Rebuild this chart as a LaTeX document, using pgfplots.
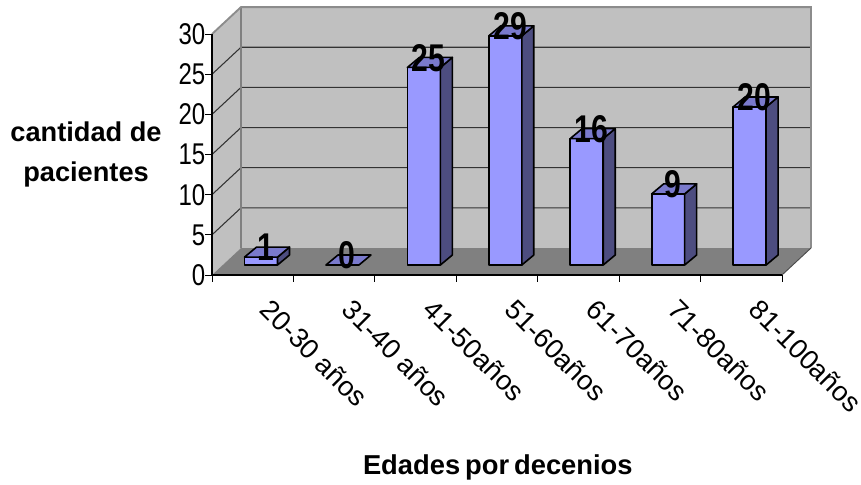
\documentclass[border=0pt]{standalone}
\usepackage{fontspec}
\usepackage{graphicx}
\setmainfont{Liberation Sans}
\usepackage{pgfplots}
\pgfplotsset{compat=1.18}

\definecolor{pared}{HTML}{C0C0C0}
\definecolor{suelo}{HTML}{808080}
\definecolor{frente}{HTML}{9999FF}
\definecolor{techo}{HTML}{7A7ACC}
\definecolor{lateral}{HTML}{4D4D80}

\pgfplotsset{
  cara frente/.style={fill=frente,draw=black,line width=1.2pt,line join=round,forget plot},
  cara techo/.style={fill=techo,draw=black,line width=1.2pt,line join=round,forget plot},
  cara lado/.style={fill=lateral,draw=black,line width=1.2pt,line join=round,forget plot},
  guia/.style={draw=black!80,line width=0.8pt,forget plot},
}

% Depth of each bar, in axis units
\def\barraX{0.147}
\def\barraY{1.245}

% One pseudo-3D bar: category index, value
\newcommand{\barra}[2]{%
  \pgfmathsetmacro{\xa}{#1+0.4}%
  \pgfmathsetmacro{\xb}{#1+0.805}%
  \pgfmathsetmacro{\xc}{\xb+\barraX}%
  \pgfmathsetmacro{\xd}{\xa+\barraX}%
  \pgfmathsetmacro{\ya}{\barraY}%
  \pgfmathsetmacro{\yb}{\barraY+0.984*#2}%
  \pgfmathsetmacro{\yc}{\yb+\barraY}%
  \pgfmathsetmacro{\yd}{\ya+\barraY}%
  \pgfmathsetmacro{\xt}{#1+0.66}%
  \pgfmathsetmacro{\yt}{\yb+1.2}%
  \ifdim #2pt>0pt
    \edef\caras{%
      \noexpand\addplot[cara frente] coordinates {(\xa,\ya) (\xb,\ya) (\xb,\yb) (\xa,\yb)} -- cycle;
      \noexpand\addplot[cara lado] coordinates {(\xb,\ya) (\xc,\yd) (\xc,\yc) (\xb,\yb)} -- cycle;
    }\caras
  \fi
  \edef\caras{%
    \noexpand\addplot[cara techo] coordinates {(\xa,\yb) (\xb,\yb) (\xc,\yc) (\xd,\yc)} -- cycle;
    \noexpand\node[font=\noexpand\bfseries\noexpand\fontsize{29pt}{29pt}\noexpand\selectfont]
      at (axis cs:\xt,\yt) {\noexpand\scalebox{0.78}[1]{#2}};
  }\caras
}

\begin{document}
\begin{tikzpicture}
\useasboundingbox (-159pt,-157.5pt) rectangle (486.75pt,206.25pt);
\begin{axis}[
  scale only axis,
  width=427.5pt,
  height=180.7pt,
  xmin=0, xmax=7,
  ymin=0, ymax=30,
  clip=false,
  axis on top,
  axis x line*=bottom,
  axis y line*=left,
  axis line style={black,line width=0.8pt,-},
  tick align=outside,
  major tick length=5pt,
  tick style={black,line width=0.7pt},
  xtick={0,1,2,3,4,5,6,7},
  x tick label as interval,
  xticklabels={20-30 años,31-40 años,41-50años,51-60años,61-70años,71-80años,81-100años},
  x tick label style={rotate=-45,anchor=north west,font=\fontsize{20.6pt}{20.6pt}\selectfont,xshift=15.6pt,yshift=5.8pt},
  ytick={0,5,10,15,20,25,30},
  /pgf/number format/assume math mode=true,
  y tick label style={font=\fontsize{22.5pt}{22.5pt}\selectfont,xscale=0.8,inner xsep=1pt,xshift=1.2pt},
  xlabel={Edades\hspace{-2pt} por\hspace{-2pt} decenios},
  xlabel style={at={(axis cs:3.51,-24)},anchor=center,font=\bfseries\fontsize{20.5pt}{20.5pt}\selectfont},
  ylabel={cantidad de\\pacientes},
  ylabel style={at={(axis cs:-1.547,15.07)},anchor=center,rotate=-90,align=center,
    font=\bfseries\fontsize{20.4pt}{30pt}\selectfont},
]
% Chart box: side wall, back wall, floor
\addplot[fill=pared,draw=none,forget plot] coordinates {(0,0) (0.356,3.36) (0.356,33.36) (0,30)} -- cycle;
\addplot[fill=pared,draw=none,forget plot] coordinates {(0.356,3.36) (7.356,3.36) (7.356,33.36) (0.356,33.36)} -- cycle;
\addplot[fill=suelo,draw=none,forget plot] coordinates {(0,0) (7,0) (7.356,3.36) (0.356,3.36)} -- cycle;

% Gridlines running across the side and back walls
\addplot[guia] coordinates {(0,5) (0.356,8.36) (7.356,8.36)};
\addplot[guia] coordinates {(0,10) (0.356,13.36) (7.356,13.36)};
\addplot[guia] coordinates {(0,15) (0.356,18.36) (7.356,18.36)};
\addplot[guia] coordinates {(0,20) (0.356,23.36) (7.356,23.36)};
\addplot[guia] coordinates {(0,25) (0.356,28.36) (7.356,28.36)};

% Box outline
\addplot[draw=suelo,line width=1.8pt,forget plot] coordinates {(0.356,3.36) (0.356,33.36)};
\addplot[draw=black!45,line width=1.4pt,forget plot] coordinates {(0,30) (0.356,33.36) (7.356,33.36) (7.356,3.36)};
\addplot[draw=black!70,line width=0.7pt,forget plot] coordinates {(7,0) (7.356,3.36)};

% Patients per age group
\barra{0}{1}
\barra{1}{0}
\barra{2}{25}
\barra{3}{29}
\barra{4}{16}
\barra{5}{9}
\barra{6}{20}
\end{axis}
\end{tikzpicture}
\end{document}
